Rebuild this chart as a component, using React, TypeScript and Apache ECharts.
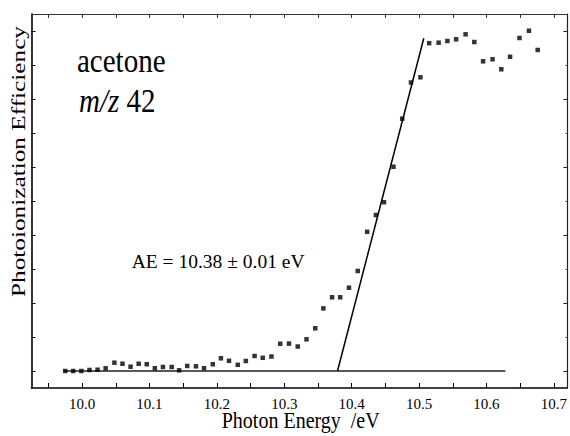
import React, { useEffect, useRef } from "react";
import * as echarts from "echarts";

// Photon energy (eV) of each measured point
const energy = [
  9.975, 9.987, 9.999, 10.011, 10.023, 10.035, 10.048, 10.06, 10.072, 10.084,
  10.096, 10.108, 10.12, 10.133, 10.144, 10.156, 10.169, 10.181, 10.194, 10.206,
  10.218, 10.231, 10.243, 10.256, 10.268, 10.281, 10.294, 10.307, 10.32, 10.333,
  10.346, 10.358, 10.371, 10.383, 10.396, 10.409, 10.423, 10.436, 10.448, 10.462,
  10.475, 10.488, 10.502, 10.515, 10.529, 10.542, 10.555, 10.569, 10.582, 10.595,
  10.609, 10.622, 10.635, 10.649, 10.663, 10.676,
];

// Photoionization efficiency (arbitrary units)
const efficiency = [
  0.0, 0.0, 0.0, 0.015, 0.019, 0.04, 0.122, 0.107, 0.063, 0.107,
  0.099, 0.04, 0.059, 0.059, 0.01, 0.074, 0.069, 0.041, 0.099, 0.187,
  0.15, 0.091, 0.147, 0.221, 0.194, 0.213, 0.401, 0.403, 0.36, 0.466,
  0.628, 0.921, 1.084, 1.084, 1.225, 1.471, 2.047, 2.294, 2.482, 3.004,
  3.71, 4.243, 4.319, 4.821, 4.828, 4.853, 4.878, 4.951, 4.838, 4.554,
  4.584, 4.437, 4.621, 4.897, 5.004, 4.721,
];

// Linear onset fit and baseline
const fitX = [10.379, 10.507];
const fitY = [0, 4.893];
const baseX = [9.973, 10.628];
const baseY = [0, 0];

// Tick positions
const xTicks = [
  9.95, 10.0, 10.05, 10.1, 10.15, 10.2, 10.25, 10.3, 10.35, 10.4, 10.45, 10.5,
  10.55, 10.6, 10.65, 10.7,
];
const xLabels = [10.0, 10.1, 10.2, 10.3, 10.4, 10.5, 10.6, 10.7];
const yAllTicks = [0, 0.5, 1, 1.5, 2, 2.5, 3, 3.5, 4, 4.5, 5];
const yMajor = [0, 1, 2, 3, 4, 5];
const yMinor = [0.5, 1.5, 2.5, 3.5, 4.5];

const X_MIN = 9.925;
const X_MAX = 10.72;
const Y_MIN = -0.25;
const Y_MAX = 5.25;

export default function App() {
  const ref = useRef<HTMLDivElement>(null);

  useEffect(() => {
    if (!ref.current) return;
    const chart = echarts.init(ref.current, null, { renderer: "svg" });
    const serif = "Liberation Serif";

    const hiddenLabel = { show: false };
    const noSplit = { show: false };

    chart.setOption({
      animation: false,
      backgroundColor: "#ffffff",
      grid: { left: 31.5, top: 14, right: 2, bottom: 48, containLabel: false },
      xAxis: [
        {
          type: "value",
          position: "bottom",
          min: X_MIN,
          max: X_MAX,
          axisLine: { show: true, onZero: false, lineStyle: { color: "#000", width: 1.6 } },
          axisTick: {
            show: true,
            inside: true,
            length: 5,
            customValues: xTicks,
            lineStyle: { color: "#000", width: 1 },
          },
          axisLabel: {
            show: true,
            customValues: xLabels,
            formatter: (v: number) => v.toFixed(1),
            fontFamily: serif,
            fontSize: 15,
            color: "#000",
            margin: 8,
          },
          splitLine: noSplit,
        },
        {
          type: "value",
          position: "top",
          min: X_MIN,
          max: X_MAX,
          axisLine: { show: true, onZero: false, lineStyle: { color: "#333", width: 1.2 } },
          axisTick: {
            show: true,
            inside: true,
            length: 4,
            customValues: xTicks,
            lineStyle: { color: "#333", width: 1 },
          },
          axisLabel: hiddenLabel,
          splitLine: noSplit,
        },
      ],
      yAxis: [
        {
          type: "value",
          position: "left",
          min: Y_MIN,
          max: Y_MAX,
          axisLine: { show: true, onZero: false, lineStyle: { color: "#000", width: 1.6 } },
          axisTick: {
            show: true,
            inside: true,
            length: 4,
            customValues: yAllTicks,
            lineStyle: { color: "#000", width: 1 },
          },
          axisLabel: hiddenLabel,
          splitLine: noSplit,
        },
        {
          type: "value",
          position: "right",
          min: Y_MIN,
          max: Y_MAX,
          axisLine: { show: true, onZero: false, lineStyle: { color: "#222", width: 1.2 } },
          axisTick: {
            show: true,
            inside: true,
            length: 4,
            customValues: yMajor,
            lineStyle: { color: "#222", width: 1 },
          },
          axisLabel: hiddenLabel,
          splitLine: noSplit,
        },
        {
          type: "value",
          position: "right",
          min: Y_MIN,
          max: Y_MAX,
          axisLine: { show: false },
          axisTick: {
            show: true,
            inside: true,
            length: 2,
            customValues: yMinor,
            lineStyle: { color: "#555", width: 1 },
          },
          axisLabel: hiddenLabel,
          splitLine: noSplit,
        },
      ],
      series: [
        {
          type: "line",
          data: baseX.map((x, i) => [x, baseY[i]]),
          symbol: "none",
          lineStyle: { color: "#222", width: 1.3 },
          silent: true,
          z: 2,
        },
        {
          type: "line",
          data: fitX.map((x, i) => [x, fitY[i]]),
          symbol: "none",
          lineStyle: { color: "#000", width: 1.5 },
          silent: true,
          z: 3,
        },
        {
          type: "scatter",
          data: energy.map((e, i) => [e, efficiency[i]]),
          symbol: "rect",
          symbolSize: 4.5,
          itemStyle: { color: "#000" },
          silent: true,
          z: 4,
        },
      ],
      graphic: [
        {
          type: "text",
          x: 77,
          y: 61,
          scaleY: 1.15,
          style: {
            text: "acetone",
            fontFamily: serif,
            fontSize: 29,
            fill: "#000",
            textAlign: "left",
            textVerticalAlign: "middle",
          },
        },
        {
          type: "text",
          x: 79,
          y: 101,
          scaleY: 1.15,
          style: {
            text: "{i|m/z} 42",
            fontFamily: serif,
            fontSize: 29,
            fill: "#000",
            textAlign: "left",
            textVerticalAlign: "middle",
            rich: {
              i: { fontFamily: serif, fontSize: 29, fontStyle: "italic", fill: "#000" },
            },
          },
        },
        {
          type: "text",
          x: 131.7,
          y: 261.7,
          style: {
            text: "AE = 10.38 ± 0.01 eV",
            fontFamily: serif,
            fontSize: 19.5,
            fill: "#000",
            textAlign: "left",
            textVerticalAlign: "middle",
          },
        },
        {
          type: "text",
          x: 300.7,
          y: 421,
          scaleY: 1.15,
          style: {
            text: "Photon Energy  /eV",
            fontFamily: serif,
            fontSize: 20,
            fill: "#000",
            textAlign: "center",
            textVerticalAlign: "middle",
          },
        },
        {
          type: "text",
          x: 18.5,
          y: 161.5,
          rotation: Math.PI / 2,
          scaleX: 1.33,
          style: {
            text: "Photoionization Efficiency",
            fontFamily: serif,
            fontSize: 19,
            fill: "#000",
            textAlign: "center",
            textVerticalAlign: "middle",
          },
        },
      ],
    });

    return () => chart.dispose();
  }, []);

  return (
    <div
      ref={ref}
      style={{ position: "fixed", left: 0, top: 0, width: 570, height: 436 }}
    />
  );
}
